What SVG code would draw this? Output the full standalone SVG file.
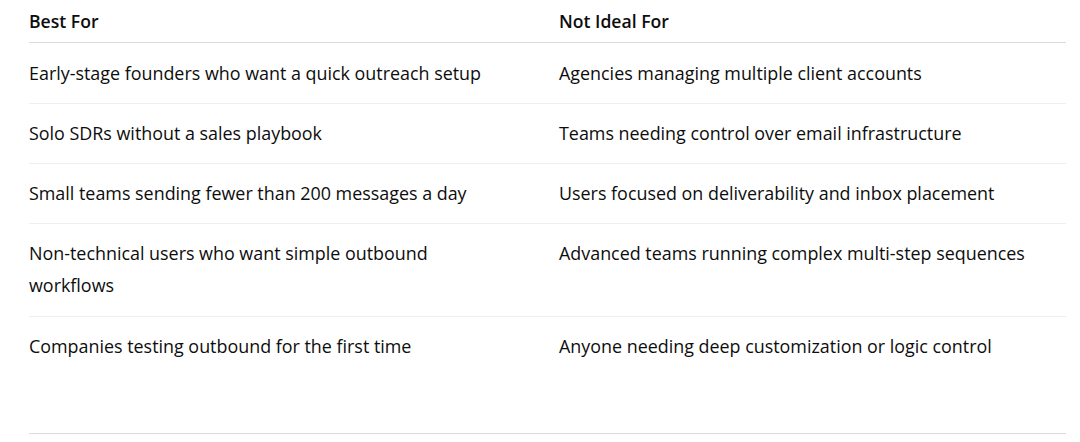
<svg xmlns="http://www.w3.org/2000/svg" width="1080" height="442" viewBox="0 0 1080 442">
<style>
text{font-family:"Open Sans","Noto Sans",sans-serif;font-size:17.9px;fill:#0d0d0d}
.h{font-weight:600;font-size:17.6px}
.hl{stroke:#dcdcdc;stroke-width:1}
.rl{stroke:#efefef;stroke-width:1}
</style>
<rect width="1080" height="442" fill="#fff"/>
<g id="lines">
<line class="hl" x1="29" y1="42.5" x2="1066" y2="42.5"/>
<line class="rl" x1="29" y1="103.5" x2="1066" y2="103.5"/>
<line class="rl" x1="29" y1="163.5" x2="1066" y2="163.5"/>
<line class="rl" x1="29" y1="223.5" x2="1066" y2="223.5"/>
<line class="rl" x1="29" y1="316.5" x2="1066" y2="316.5"/>
<line class="hl" x1="29" y1="433.5" x2="1066" y2="433.5"/>
</g>
<g id="header">
<text class="h" x="29" y="27.5">Best For</text>
<text class="h" x="559" y="27.5">Not Ideal For</text>
</g>
<g id="row1">
<text x="29" y="79.5">Early-stage founders who want a quick outreach setup</text>
<text x="559" y="79.5">Agencies managing multiple client accounts</text>
</g>
<g id="row2">
<text x="29" y="139.5">Solo SDRs without a sales playbook</text>
<text x="559" y="139.5">Teams needing control over email infrastructure</text>
</g>
<g id="row3">
<text x="29" y="200">Small teams sending fewer than 200 messages a day</text>
<text x="559" y="200">Users focused on deliverability and inbox placement</text>
</g>
<g id="row4">
<text x="29" y="260">Non-technical users who want simple outbound</text>
<text x="29" y="292">workflows</text>
<text x="559" y="260">Advanced teams running complex multi-step sequences</text>
</g>
<g id="row5">
<text x="29" y="352.5">Companies testing outbound for the first time</text>
<text x="559" y="352.5">Anyone needing deep customization or logic control</text>
</g>
</svg>
